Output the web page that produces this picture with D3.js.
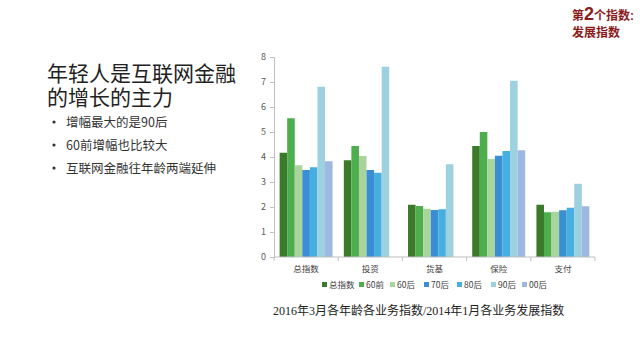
<!DOCTYPE html>
<html><head><meta charset="utf-8">
<script src="https://cdn.jsdelivr.net/npm/d3@7"></script>
<style>
html,body{margin:0;padding:0;background:#fff;}
svg{display:block;}
</style></head>
<body><svg id="c" width="640" height="357"></svg>
<script>
const categories = ["总指数","投资","货基","保险","支付"];
const seriesNames = ["总指数","60前","60后","70后","80后","90后","00后"];
const s_total = [4.17, 3.87, 2.09, 4.44, 2.09];
const s_60q   = [5.55, 4.44, 2.04, 5.00, 1.79];
const s_60h   = [3.67, 4.04, 1.93, 3.92, 1.81];
const s_70h   = [3.48, 3.48, 1.88, 4.05, 1.87];
const s_80h   = [3.59, 3.37, 1.91, 4.24, 1.97];
const s_90h   = [6.81, 7.61, 3.71, 7.05, 2.93];
const s_00h   = [3.83, 0,    0,    4.27, 2.03];
const yTicks = [0,1,2,3,4,5,6,7,8];
const colors = ["#3b7a2a","#4cae4c","#a9d49c","#3a8ed4","#44afe0","#9dd1df","#9db9e2"];
const allSeries = [s_total,s_60q,s_60h,s_70h,s_80h,s_90h,s_00h];

(function(){
const svg = d3.select("#c");
const sans = "'Noto Sans CJK SC','Noto Sans',sans-serif";
const tight = "'Liberation Sans','Noto Sans CJK SC',sans-serif";

// Top-right label
const tr = svg.append("text").attr("fill","#8b1c1c").attr("font-family",tight).attr("font-weight","bold");
tr.append("tspan").attr("x",572).attr("y",20).attr("font-size",12).text("第");
tr.append("tspan").attr("font-size",18).text("2");
tr.append("tspan").attr("font-size",12).text("个指数:");
svg.append("text").attr("x",572).attr("y",36.5).attr("fill","#8b1c1c").attr("font-family",tight)
  .attr("font-weight","bold").attr("font-size",12).text("发展指数");

// Title
const titleLines = ["年轻人是互联网金融","的增长的主力"];
svg.selectAll("text.title").data(titleLines).enter().append("text").attr("class","title")
  .attr("x",47).attr("y",(d,i)=>81+i*24).attr("font-family",tight).attr("font-size",21)
  .attr("fill","#222").text(d=>d);

const bullets = ["增幅最大的是90后","60前增幅也比较大","互联网金融往年龄两端延伸"];
const bg = svg.selectAll("g.bullet").data(bullets).enter().append("g").attr("class","bullet");
bg.append("circle").attr("cx",54).attr("cy",(d,i)=>122+i*23).attr("r",1.6).attr("fill","#333");
bg.append("text").attr("x",66).attr("y",(d,i)=>126.5+i*23).attr("font-family",sans)
  .attr("font-size",12.5).attr("fill","#333").text(d=>d);

// Chart
const L=274, R=595, T=57, B=257;
const y = d3.scaleLinear().domain([0,8]).range([B,T]);
const x0 = d3.scaleBand().domain(categories).range([L,R]).paddingInner(0.175).paddingOuter(0.0875);
const x1 = d3.scaleBand().domain(seriesNames).range([0,x0.bandwidth()]);

const g = svg.append("g");
categories.forEach((cat,ci)=>{
  seriesNames.forEach((sn,si)=>{
    const v = allSeries[si][ci];
    if(v>0) g.append("rect").attr("x",x0(cat)+x1(sn)).attr("y",y(v))
      .attr("width",x1.bandwidth()).attr("height",B-y(v)).attr("fill",colors[si]);
  });
});

// y axis
const yAxis = d3.axisLeft(y).tickValues(yTicks).tickSize(4).tickPadding(4);
const ya = svg.append("g").attr("transform",`translate(${L},0)`).call(yAxis);
ya.select(".domain").attr("stroke","#bfbfbf");
ya.selectAll(".tick line").attr("stroke","#bfbfbf");
ya.selectAll("text").attr("font-family",sans).attr("font-size",9).attr("fill","#595959");

// x axis
const xa = svg.append("g").attr("transform",`translate(0,${B})`);
xa.append("line").attr("x1",L).attr("x2",R).attr("stroke","#bfbfbf");
d3.range(categories.length+1).forEach(i=>{
  const xx = L + i*(R-L)/categories.length;
  xa.append("line").attr("x1",xx).attr("x2",xx).attr("y1",0).attr("y2",4).attr("stroke","#bfbfbf");
});
xa.selectAll("text.cat").data(categories).enter().append("text").attr("class","cat")
  .attr("x",d=>x0(d)+x0.bandwidth()/2).attr("y",15).attr("text-anchor","middle")
  .attr("font-family",sans).attr("font-size",8.5).attr("fill","#404040").text(d=>d);

// legend
const legX = [322,359,390,424,457,491,522];
const lg = svg.selectAll("g.leg").data(seriesNames).enter().append("g").attr("class","leg")
  .attr("transform",(d,i)=>`translate(${legX[i]},285)`);
lg.append("rect").attr("x",0).attr("y",-3).attr("width",5).attr("height",5).attr("fill",(d,i)=>colors[i]);
lg.append("text").attr("x",7).attr("y",3).attr("font-family",sans).attr("font-size",8.5)
  .attr("fill","#404040").text(d=>d);

// caption
svg.append("text").attr("x",273).attr("y",315).attr("font-family","'Liberation Serif','Noto Sans CJK SC',serif")
  .attr("font-size",12).attr("fill","#222").text("2016年3月各年龄各业务指数/2014年1月各业务发展指数");
})();
</script></body></html>
